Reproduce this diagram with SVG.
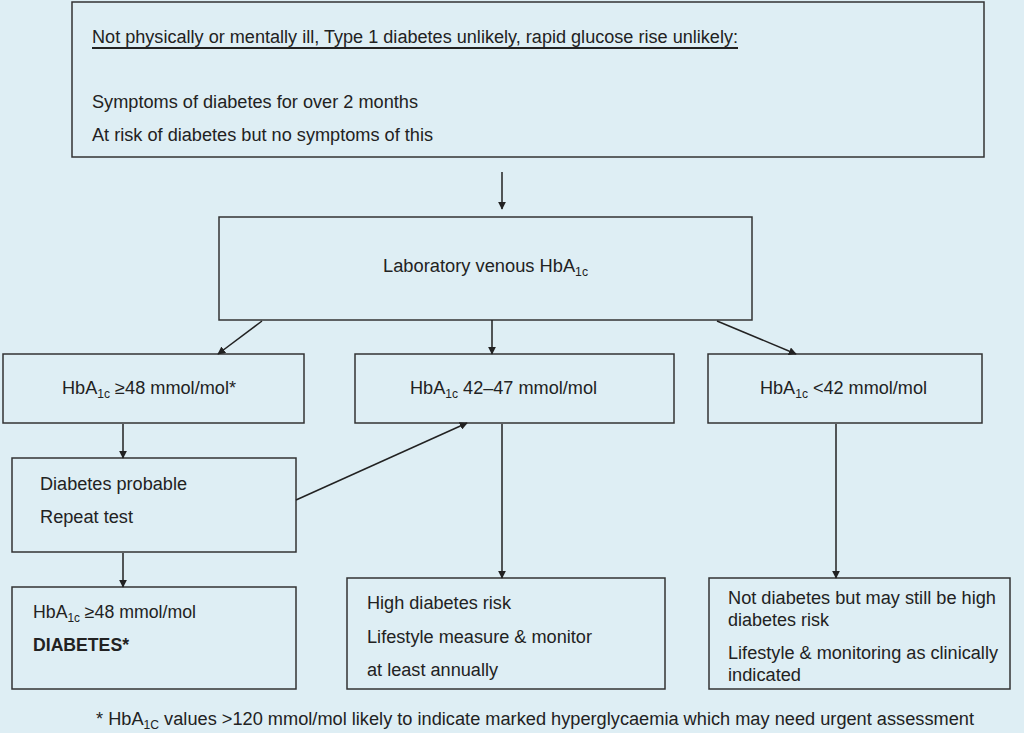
<svg xmlns="http://www.w3.org/2000/svg" width="1024" height="733" viewBox="0 0 1024 733">
<style>
.bx{fill:#deeef4;stroke:#333;stroke-width:1.5}
.t{font-family:"Liberation Sans",Arial,sans-serif;font-size:18px;fill:#222}
.b{font-weight:bold}
.sub{font-size:12px}
.c line{stroke:#222;stroke-width:1.5;fill:none}
</style>
<defs>
<marker id="ah" viewBox="0 0 10 10" refX="9" refY="5" markerWidth="8" markerHeight="8" markerUnits="userSpaceOnUse" orient="auto">
<path d="M0,0 L10,5 L0,10 z" fill="#222"/>
</marker>
</defs>
<rect width="1024" height="733" fill="#deeef4"/>
<g id="n-top">
<rect class="bx" x="72" y="2" width="912" height="155"/>
<text class="t" x="92" y="43" textLength="646" lengthAdjust="spacingAndGlyphs">Not physically or mentally ill, Type 1 diabetes unlikely, rapid glucose rise unlikely:</text>
<line x1="92" y1="48" x2="738" y2="48" stroke="#222" stroke-width="2"/>
<text class="t" x="92" y="108" textLength="326" lengthAdjust="spacingAndGlyphs">Symptoms of diabetes for over 2 months</text>
<text class="t" x="92" y="141" textLength="341" lengthAdjust="spacingAndGlyphs">At risk of diabetes but no symptoms of this</text>
</g>
<g id="n-lab">
<rect class="bx" x="219" y="217" width="533" height="103"/>
<text class="t" x="383" y="272" textLength="205" lengthAdjust="spacingAndGlyphs">Laboratory venous HbA<tspan class="sub" dy="4">1c</tspan></text>
</g>
<g id="n-ge48">
<rect class="bx" x="3" y="354" width="301" height="69"/>
<text class="t" x="62" y="394" textLength="174" lengthAdjust="spacingAndGlyphs">HbA<tspan class="sub" dy="4">1c</tspan><tspan dy="-4"> ≥48 mmol/mol*</tspan></text>
</g>
<g id="n-4247">
<rect class="bx" x="355" y="354" width="319" height="69"/>
<text class="t" x="410" y="394" textLength="187" lengthAdjust="spacingAndGlyphs">HbA<tspan class="sub" dy="4">1c</tspan><tspan dy="-4"> 42–47 mmol/mol</tspan></text>
</g>
<g id="n-lt42">
<rect class="bx" x="708" y="354" width="274" height="69"/>
<text class="t" x="760" y="394" textLength="167" lengthAdjust="spacingAndGlyphs">HbA<tspan class="sub" dy="4">1c</tspan><tspan dy="-4"> &lt;42 mmol/mol</tspan></text>
</g>
<g id="n-probable">
<rect class="bx" x="12" y="458" width="284" height="94"/>
<text class="t" x="40" y="490" textLength="147" lengthAdjust="spacingAndGlyphs">Diabetes probable</text>
<text class="t" x="40" y="523" textLength="93" lengthAdjust="spacingAndGlyphs">Repeat test</text>
</g>
<g id="n-diabetes">
<rect class="bx" x="12" y="587" width="284" height="102"/>
<text class="t" x="33" y="618" textLength="163" lengthAdjust="spacingAndGlyphs">HbA<tspan class="sub" dy="4">1c</tspan><tspan dy="-4"> ≥48 mmol/mol</tspan></text>
<text class="t b" x="33" y="651" textLength="96" lengthAdjust="spacingAndGlyphs">DIABETES*</text>
</g>
<g id="n-high">
<rect class="bx" x="347" y="578" width="318" height="111"/>
<text class="t" x="367" y="609" textLength="144" lengthAdjust="spacingAndGlyphs">High diabetes risk</text>
<text class="t" x="367" y="643" textLength="225" lengthAdjust="spacingAndGlyphs">Lifestyle measure &amp; monitor</text>
<text class="t" x="367" y="676" textLength="131" lengthAdjust="spacingAndGlyphs">at least annually</text>
</g>
<g id="n-not">
<rect class="bx" x="709" y="578" width="301" height="111"/>
<text class="t" x="728" y="604" textLength="268" lengthAdjust="spacingAndGlyphs">Not diabetes but may still be high</text>
<text class="t" x="728" y="626" textLength="101" lengthAdjust="spacingAndGlyphs">diabetes risk</text>
<text class="t" x="728" y="659" textLength="270" lengthAdjust="spacingAndGlyphs">Lifestyle &amp; monitoring as clinically</text>
<text class="t" x="728" y="681" textLength="73" lengthAdjust="spacingAndGlyphs">indicated</text>
</g>
<g id="footnote">
<text class="t" x="96" y="725" textLength="878" lengthAdjust="spacingAndGlyphs">* HbA<tspan class="sub" dy="4">1C</tspan><tspan dy="-4"> values &gt;120 mmol/mol likely to indicate marked hyperglycaemia which may need urgent assessment</tspan></text>
</g>
<g id="connectors" class="c">
<line x1="502" y1="172" x2="502" y2="209" marker-end="url(#ah)"/>
<line x1="262" y1="321" x2="218" y2="354" marker-end="url(#ah)"/>
<line x1="492" y1="320" x2="492" y2="354" marker-end="url(#ah)"/>
<line x1="717" y1="321" x2="796" y2="354" marker-end="url(#ah)"/>
<line x1="123" y1="424" x2="123" y2="458" marker-end="url(#ah)"/>
<line x1="296" y1="500" x2="467" y2="423" marker-end="url(#ah)"/>
<line x1="123" y1="553" x2="123" y2="587" marker-end="url(#ah)"/>
<line x1="502" y1="424" x2="502" y2="578" marker-end="url(#ah)"/>
<line x1="836" y1="424" x2="836" y2="578" marker-end="url(#ah)"/>
</g>
</svg>
